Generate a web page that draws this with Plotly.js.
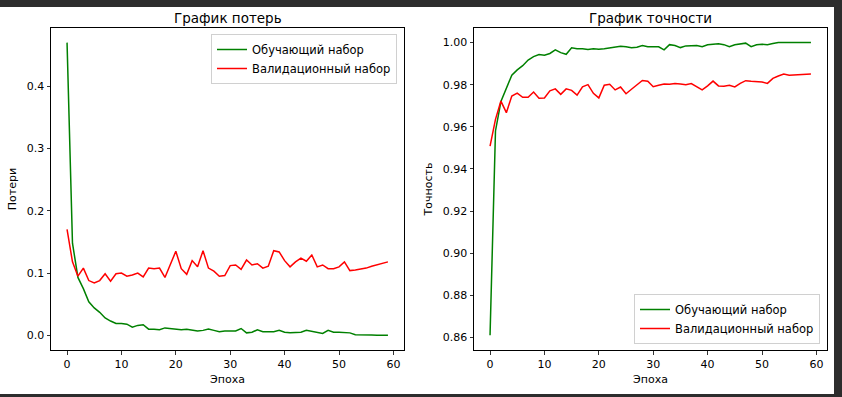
<!DOCTYPE html>
<html>
<head>
<meta charset="utf-8">
<script src="https://cdn.plot.ly/plotly-3.0.1.min.js"></script>
<style>
  html, body { margin: 0; padding: 0; background: #2d2d2d; width: 842px; height: 397px; overflow: hidden; }
  #chart { position: absolute; left: 0; top: 7px; width: 834px; height: 387px; background: #fff; }
</style>
</head>
<body>
<div id="chart"></div>
<script>
const epochs = Array.from({length: 60}, (_, i) => i);

const trainLoss = [0.470, 0.148, 0.093, 0.075, 0.054, 0.044, 0.037, 0.028, 0.023, 0.019,
  0.019, 0.018, 0.013, 0.016, 0.017, 0.010, 0.010, 0.009, 0.012, 0.011,
  0.011, 0.009, 0.010, 0.008, 0.007, 0.008, 0.010, 0.008, 0.006, 0.007,
  0.007, 0.007, 0.011, 0.004, 0.005, 0.009, 0.006, 0.006, 0.006, 0.008,
  0.005, 0.004, 0.004, 0.005, 0.008, 0.006, 0.005, 0.003, 0.008, 0.005,
  0.005, 0.005, 0.004, 0.001, 0.0005, 0.0004, 0.0004, 0.0003, 0.0003, 0.0003];

const valLoss = [0.170, 0.118, 0.095, 0.108, 0.088, 0.084, 0.088, 0.099, 0.087, 0.099,
  0.100, 0.095, 0.097, 0.100, 0.094, 0.108, 0.107, 0.108, 0.093, 0.113,
  0.135, 0.107, 0.098, 0.120, 0.110, 0.136, 0.108, 0.103, 0.095, 0.096,
  0.112, 0.113, 0.106, 0.121, 0.113, 0.115, 0.108, 0.111, 0.136, 0.134,
  0.120, 0.110, 0.118, 0.124, 0.119, 0.129, 0.110, 0.113, 0.107, 0.107,
  0.110, 0.118, 0.104, 0.105, 0.106, 0.108, 0.111, 0.113, 0.116, 0.118];

const trainAcc = [0.861, 0.958, 0.972, 0.978, 0.9845, 0.987, 0.989, 0.9917, 0.9933, 0.9943,
  0.994, 0.9948, 0.9965, 0.9952, 0.9944, 0.9975, 0.997, 0.9971, 0.9967, 0.997,
  0.9968, 0.9971, 0.9975, 0.998, 0.9982, 0.998, 0.9975, 0.9978, 0.9986, 0.998,
  0.998, 0.998, 0.9965, 0.999, 0.9986, 0.9976, 0.9984, 0.9986, 0.9986, 0.998,
  0.9989, 0.9992, 0.9994, 0.999, 0.998, 0.9989, 0.9992, 0.9997, 0.998, 0.9989,
  0.9992, 0.999, 0.9995, 1.0, 1.0, 1.0, 1.0, 1.0, 1.0, 1.0];

const valAcc = [0.9508, 0.9635, 0.9722, 0.9667, 0.9746, 0.976, 0.974, 0.974, 0.9765, 0.9735,
  0.9737, 0.9771, 0.978, 0.9754, 0.978, 0.9773, 0.975, 0.979, 0.980, 0.9759,
  0.9737, 0.9797, 0.9802, 0.9775, 0.9789, 0.9757, 0.9778, 0.9797, 0.982, 0.9816,
  0.979, 0.9797, 0.9803, 0.9802, 0.9806, 0.9803, 0.980, 0.9805, 0.979, 0.9775,
  0.9794, 0.9817, 0.9794, 0.9792, 0.9797, 0.9789, 0.9806, 0.9819, 0.9816, 0.9816,
  0.9813, 0.9806, 0.983, 0.9841, 0.985, 0.9845, 0.9846, 0.9846, 0.9848, 0.985];

const xTicks = [0, 10, 20, 30, 40, 50, 60];
const lossTicks = [0.0, 0.1, 0.2, 0.3, 0.4];
const accTicks = [0.86, 0.88, 0.90, 0.92, 0.94, 0.96, 0.98, 1.00];

const labelTrain = 'Обучающий набор';
const labelVal = 'Валидационный набор';
const titleLoss = 'График потерь';
const titleAcc = 'График точности';
const xTitle = 'Эпоха';
const yTitleLoss = 'Потери';
const yTitleAcc = 'Точность';

const FONT = 'DejaVu Sans, sans-serif';
const W = 834, H = 387;

const traces = [
  {x: epochs, y: trainLoss, name: labelTrain, type: 'scatter', mode: 'lines',
   line: {color: '#008000', width: 1.5}, xaxis: 'x', yaxis: 'y', legend: 'legend'},
  {x: epochs, y: valLoss, name: labelVal, type: 'scatter', mode: 'lines',
   line: {color: '#ff0000', width: 1.5}, xaxis: 'x', yaxis: 'y', legend: 'legend'},
  {x: epochs, y: trainAcc, name: labelTrain, type: 'scatter', mode: 'lines',
   line: {color: '#008000', width: 1.5}, xaxis: 'x2', yaxis: 'y2', legend: 'legend2'},
  {x: epochs, y: valAcc, name: labelVal, type: 'scatter', mode: 'lines',
   line: {color: '#ff0000', width: 1.5}, xaxis: 'x2', yaxis: 'y2', legend: 'legend2'}
];

const axisCommon = {
  showline: true, linecolor: '#000', linewidth: 1, mirror: true,
  ticks: 'outside', ticklen: 3.5, tickwidth: 0.8, tickcolor: '#000',
  showgrid: false, zeroline: false,
  tickfont: {family: FONT, size: 11, color: '#000'},
  fixedrange: true
};

const yDom = [44 / H, 366 / H];

const layout = {
  width: W, height: H,
  margin: {l: 0, r: 0, t: 0, b: 0},
  paper_bgcolor: '#fff', plot_bgcolor: '#fff',
  font: {family: FONT, color: '#000'},
  showlegend: true,
  xaxis: Object.assign({}, axisCommon, {
    domain: [51 / W, 404 / W], range: [-2.95, 61.95], tickvals: xTicks, anchor: 'y',
    title: {text: xTitle, font: {family: FONT, size: 11}, standoff: 5}
  }),
  yaxis: Object.assign({}, axisCommon, {
    domain: yDom, range: [-0.0235, 0.4935], tickvals: lossTicks, tickformat: '.1f', anchor: 'x',
    title: {text: yTitleLoss, font: {family: FONT, size: 11}, standoff: 7}
  }),
  xaxis2: Object.assign({}, axisCommon, {
    domain: [474 / W, 827 / W], range: [-2.95, 61.95], tickvals: xTicks, anchor: 'y2',
    title: {text: xTitle, font: {family: FONT, size: 11}, standoff: 5}
  }),
  yaxis2: Object.assign({}, axisCommon, {
    domain: yDom, range: [0.8540, 1.0069], tickvals: accTicks, tickformat: '.2f', anchor: 'x2',
    title: {text: yTitleAcc, font: {family: FONT, size: 11}, standoff: 7}
  }),
  legend: {
    x: 397 / W, y: 1 - 27 / H, xanchor: 'right', yanchor: 'top',
    bgcolor: 'rgba(255,255,255,0.8)', bordercolor: '#d0d0d0', borderwidth: 1,
    font: {family: FONT, size: 11.5, color: '#000'}, itemwidth: 30, tracegroupgap: 0
  },
  legend2: {
    x: 820 / W, y: 1 - 337 / H, xanchor: 'right', yanchor: 'bottom',
    bgcolor: 'rgba(255,255,255,0.8)', bordercolor: '#d0d0d0', borderwidth: 1,
    font: {family: FONT, size: 11.5, color: '#000'}, itemwidth: 30, tracegroupgap: 0
  },
  annotations: [
    {text: titleLoss, xref: 'paper', yref: 'paper', x: (51 + 404) / 2 / W, y: 1 - 10.5 / H,
     xanchor: 'center', yanchor: 'middle', showarrow: false, font: {family: FONT, size: 13.5, color: '#000'}},
    {text: titleAcc, xref: 'paper', yref: 'paper', x: (474 + 827) / 2 / W, y: 1 - 10.5 / H,
     xanchor: 'center', yanchor: 'middle', showarrow: false, font: {family: FONT, size: 13.5, color: '#000'}}
  ]
};

Plotly.newPlot('chart', traces, layout, {displayModeBar: false, staticPlot: true});
</script>
</body>
</html>
